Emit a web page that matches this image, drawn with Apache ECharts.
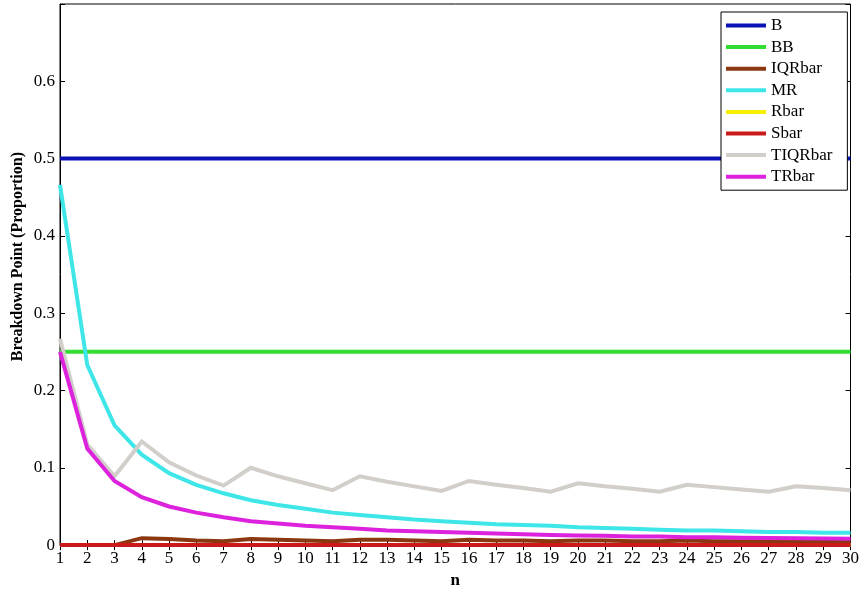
<!DOCTYPE html>
<html>
<head>
<meta charset="utf-8">
<script src="https://cdn.jsdelivr.net/npm/echarts@6/dist/echarts.min.js"></script>
<style>
html,body{margin:0;padding:0;background:#fff;}
#chart{width:862px;height:594px;}
</style>
</head>
<body>
<div id="chart"></div>
<script>
var ns = [1,2,3,4,5,6,7,8,9,10,11,12,13,14,15,16,17,18,19,20,21,22,23,24,25,26,27,28,29,30];
var seriesNames = ['B','BB','IQRbar','MR','Rbar','Sbar','TIQRbar','TRbar'];
var B = [0.5,0.5,0.5,0.5,0.5,0.5,0.5,0.5,0.5,0.5,0.5,0.5,0.5,0.5,0.5,0.5,0.5,0.5,0.5,0.5,0.5,0.5,0.5,0.5,0.5,0.5,0.5,0.5,0.5,0.5];
var BB = [0.25,0.25,0.25,0.25,0.25,0.25,0.25,0.25,0.25,0.25,0.25,0.25,0.25,0.25,0.25,0.25,0.25,0.25,0.25,0.25,0.25,0.25,0.25,0.25,0.25,0.25,0.25,0.25,0.25,0.25];
var IQRbar = [0,0,0,0.009,0.008,0.006,0.005,0.008,0.007,0.006,0.005,0.007,0.007,0.006,0.005,0.007,0.006,0.006,0.005,0.006,0.006,0.005,0.005,0.006,0.005,0.005,0.005,0.005,0.005,0.005];
var MR = [0.466,0.233,0.155,0.117,0.093,0.078,0.067,0.058,0.052,0.047,0.042,0.039,0.036,0.033,0.031,0.029,0.027,0.026,0.025,0.023,0.022,0.021,0.020,0.019,0.019,0.018,0.017,0.017,0.016,0.016];
var Rbar = [0,0,0,0,0,0,0,0,0,0,0,0,0,0,0,0,0,0,0,0,0,0,0,0,0,0,0,0,0,0];
var Sbar = [0,0,0,0,0,0,0,0,0,0,0,0,0,0,0,0,0,0,0,0,0,0,0,0,0,0,0,0,0,0];
var TIQRbar = [0.267,0.13,0.089,0.134,0.107,0.090,0.077,0.100,0.089,0.080,0.071,0.089,0.082,0.076,0.070,0.083,0.078,0.074,0.069,0.080,0.076,0.073,0.069,0.078,0.075,0.072,0.069,0.076,0.074,0.071];
var TRbar = [0.25,0.125,0.083,0.062,0.050,0.042,0.036,0.031,0.028,0.025,0.023,0.021,0.019,0.018,0.017,0.016,0.015,0.014,0.013,0.0125,0.012,0.011,0.011,0.010,0.010,0.0096,0.0093,0.0089,0.0086,0.0083];
var yTicks = [0,0.1,0.2,0.3,0.4,0.5,0.6];
var colors = ['#0a12b4','#33dd33','#8b3812','#3ee6e8','#f5f000','#cc1a1a','#d2cec9','#dd22dd'];
var values = [B,BB,IQRbar,MR,Rbar,Sbar,TIQRbar,TRbar];

var font = 'Liberation Serif';
var chart = echarts.init(document.getElementById('chart'), null, {renderer:'canvas'});
var series = seriesNames.map(function(name,i){
  return {
    name: name, type: 'line', xAxisIndex: 0, yAxisIndex: 0,
    showSymbol: false, symbol: 'none',
    lineStyle: {width: 4, color: colors[i], cap: 'butt', join: 'miter'},
    itemStyle: {color: colors[i]},
    data: ns.map(function(n,j){ return [n, values[i][j]]; }),
    animation: false
  };
});
chart.setOption({
  backgroundColor: '#fff',
  animation: false,
  grid: {left:60, right:8, top:4, bottom:41, show:true, borderColor:'#000', borderWidth:1, backgroundColor:'transparent'},
  legend: {
    data: seriesNames, orient:'vertical', left:721, top:12,
    icon:'rect', itemWidth:40, itemHeight:4, itemGap:4.6,
    padding:[5,15,5,5], backgroundColor:'#fff', borderColor:'#000', borderWidth:1,
    textStyle:{fontFamily:font, fontSize:17, color:'#000', lineHeight:16}
  },
  xAxis: [{
    type:'value', min:1, max:30, interval:1, position:'bottom',
    name:'n', nameLocation:'middle', nameGap:24,
    nameTextStyle:{fontFamily:font, fontSize:17, fontWeight:'bold', color:'#000'},
    axisLine:{show:true, onZero:false, lineStyle:{color:'#000'}},
    axisTick:{show:true, inside:true, length:5, lineStyle:{color:'#000'}},
    axisLabel:{fontFamily:font, fontSize:17, color:'#000', margin:5},
    splitLine:{show:false}
  },{
    type:'value', min:1, max:30, interval:1, position:'top',
    axisLine:{show:false},
    axisTick:{show:true, inside:true, length:5, lineStyle:{color:'#000'}},
    axisLabel:{show:false}, splitLine:{show:false}
  }],
  yAxis: [{
    type:'value', min:0, max:0.7, interval:0.1, position:'left',
    axisLine:{show:true, onZero:false, lineStyle:{color:'#000'}},
    axisTick:{show:true, inside:true, length:5, lineStyle:{color:'#000'}},
    axisLabel:{fontFamily:font, fontSize:17, color:'#000', margin:5,
      formatter:function(v){
        for (var k=0;k<yTicks.length;k++){ if (Math.abs(v-yTicks[k])<1e-9) return String(yTicks[k]); }
        return '';
      }},
    splitLine:{show:false}
  },{
    type:'value', min:0, max:0.7, interval:0.1, position:'right',
    axisLine:{show:false},
    axisTick:{show:true, inside:true, length:5, lineStyle:{color:'#000'}},
    axisLabel:{show:false}, splitLine:{show:false}
  }],
  graphic: [{
    type:'text', left:10, top:152, rotation:Math.PI/2,
    style:{text:'Breakdown Point (Proportion)', fontFamily:font, fontSize:16, fontWeight:'bold', fill:'#000'}
  }],
  series: series
});
</script>
</body>
</html>
